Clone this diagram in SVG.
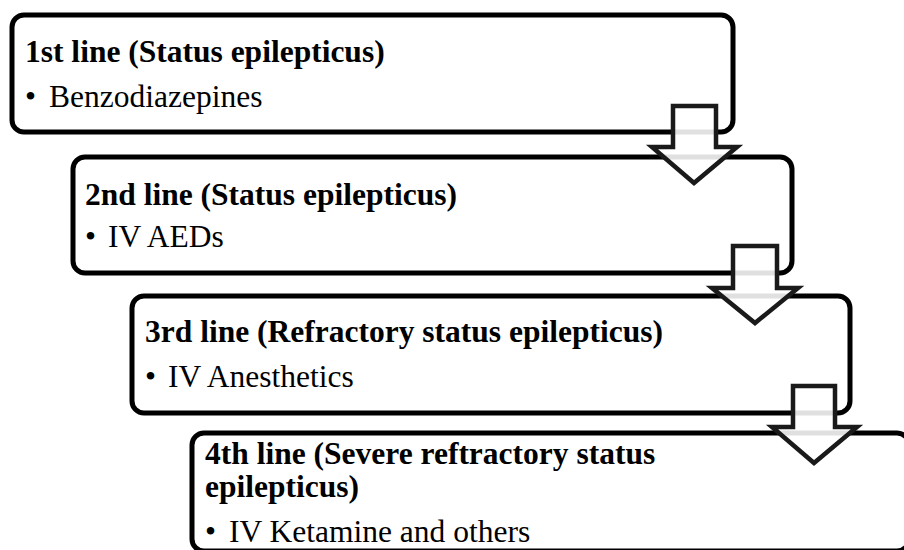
<svg xmlns="http://www.w3.org/2000/svg" width="904" height="550" viewBox="0 0 904 550">
  <style>
    .box { fill: #ffffff; stroke: #000000; stroke-width: 5; }
    .title { font-family: "Liberation Serif", "Times New Roman", serif; font-weight: bold; font-size: 31.5px; fill: #000000; }
    .item { font-family: "Liberation Serif", "Times New Roman", serif; font-size: 31.5px; fill: #000000; }
    .arrow { fill: #ffffff; fill-opacity: 0.88; stroke: #1a1a1a; stroke-width: 4.5; stroke-linejoin: miter; }
  </style>
  <rect width="904" height="550" fill="#ffffff"/>
  <g id="node1">
    <rect class="box" x="12" y="15" width="721" height="117" rx="12" ry="12"/>
    <text class="title" x="25" y="62">1st line (Status epilepticus)</text>
    <text class="item" x="25" y="107">•</text>
    <text class="item" x="49" y="107">Benzodiazepines</text>
  </g>
  <g id="node2">
    <rect class="box" x="73" y="157" width="719" height="116" rx="12" ry="12"/>
    <text class="title" x="85" y="205">2nd line (Status epilepticus)</text>
    <text class="item" x="85" y="247">•</text>
    <text class="item" x="108" y="247">IV AEDs</text>
  </g>
  <g id="node3">
    <rect class="box" x="132" y="296" width="718" height="117" rx="12" ry="12"/>
    <text class="title" x="145" y="342">3rd line (Refractory status epilepticus)</text>
    <text class="item" x="145" y="387">•</text>
    <text class="item" x="168" y="387">IV Anesthetics</text>
  </g>
  <g id="node4">
    <rect class="box" x="192" y="433" width="717" height="118" rx="12" ry="12"/>
    <text class="title" x="205" y="464">4th line (Severe reftractory status</text>
    <text class="title" x="205" y="497">epilepticus)</text>
    <text class="item" x="205" y="542">•</text>
    <text class="item" x="229" y="542">IV Ketamine and others</text>
  </g>
  <g id="connectors">
    <polygon class="arrow" points="673,106 716,106 716,147 737,147 694,183 652,147 673,147"/>
    <polygon class="arrow" points="733,246 777,246 777,288 798,288 755,323 712,288 733,288"/>
    <polygon class="arrow" points="793,386 835,386 835,427 857,427 814,463 772,427 793,427"/>
  </g>
</svg>
